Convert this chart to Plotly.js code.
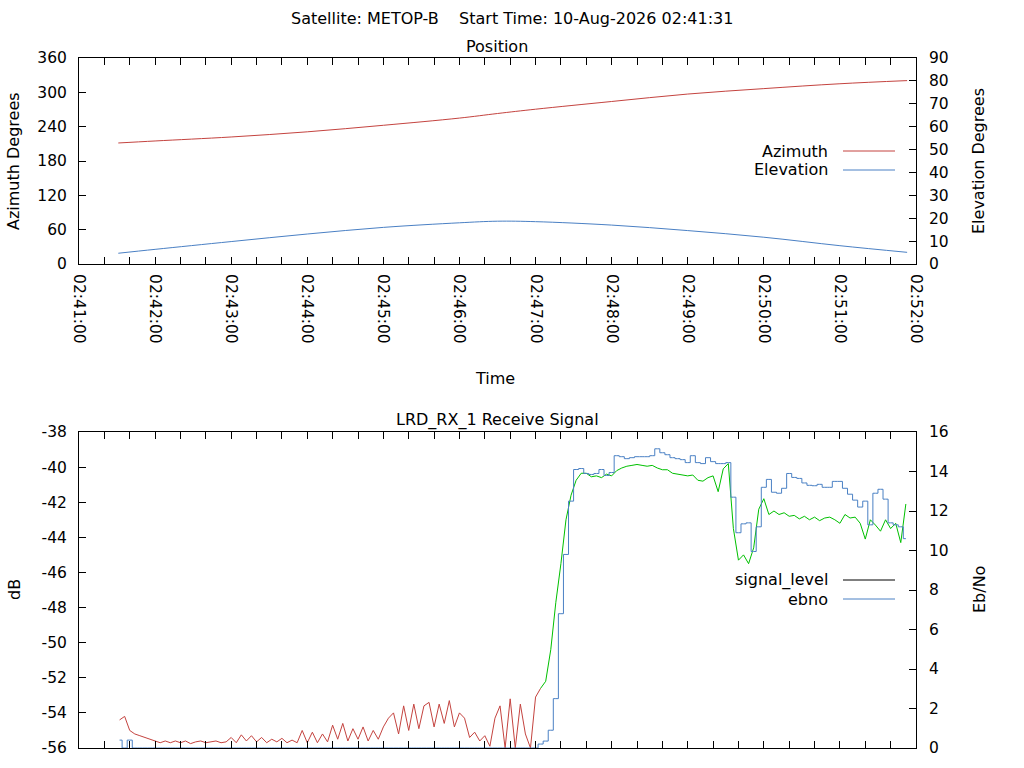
<!DOCTYPE html>
<html>
<head>
<meta charset="utf-8">
<script src="https://cdn.plot.ly/plotly-3.0.1.min.js"></script>
<style>
  html, body { margin: 0; padding: 0; background: #ffffff; }
  #chart { width: 1024px; height: 768px; }
</style>
</head>
<body>
<div id="chart"></div>
<script>
// ---------------- Data ----------------
const mainTitle = 'Satellite: METOP-B    Start Time: 10-Aug-2026 02:41:31';
const positionTitle = 'Position';
const signalTitle = 'LRD_RX_1 Receive Signal';

// Position pass (top panel)
const posTimes = [
  '2026-08-10 02:41:31', '2026-08-10 02:42:00', '2026-08-10 02:43:00', '2026-08-10 02:44:00',
  '2026-08-10 02:45:00', '2026-08-10 02:46:00', '2026-08-10 02:46:30', '2026-08-10 02:47:00',
  '2026-08-10 02:48:00', '2026-08-10 02:49:00', '2026-08-10 02:50:00', '2026-08-10 02:51:00',
  '2026-08-10 02:51:53'
];
const azimuth = [211.5, 215, 222, 231, 242.4, 255, 263, 270.5, 284, 297, 306.5, 315, 320.5];
const elevation = [4.7, 6.4, 9.8, 13.1, 16.0, 18.0, 18.7, 18.5, 17.0, 14.6, 11.7, 8.0, 5.1];

// Receive signal (bottom panel), one sample every 4 s from 02:41:32
const signalStart = '2026-08-10 02:41:32';
const signalStepSec = 4;
const signalLevel = [
  -54.4, -54.2, -55.0, -55.2, -55.3, -55.4, -55.5, -55.6,
  -55.7, -55.6, -55.7, -55.6, -55.7, -55.6, -55.75, -55.65, -55.6, -55.7, -55.65, -55.6, -55.7, -55.65,
  -55.4, -55.7, -55.25, -55.6, -55.3, -55.65, -55.4, -55.7, -55.5, -55.65, -55.45, -55.7, -55.55, -55.7,
  -55.0, -55.7, -55.1, -55.7, -55.2, -55.65, -54.7, -55.5, -54.6,
  -55.6, -54.9, -55.5, -54.8, -55.6, -55.0, -55.5, -54.8,
  -54.3, -54.0, -55.2, -53.6, -55.0, -53.5, -54.9, -53.6, -53.4, -54.8, -53.5, -54.6, -53.3, -54.8,
  -54.0, -54.3, -55.4, -55.1, -55.6, -55.3, -55.9, -54.3, -53.6, -56.0, -53.2, -56.0, -53.5, -55.2,
  -56.0, -53.1, -52.6,
  -52.2, -50.4, -47.7, -45.5, -43.0, -41.6, -40.75, -40.35, -40.35, -40.55, -40.5, -40.6, -40.4, -40.5,
  -40.2, -40.05, -39.95, -39.9, -39.85, -39.9, -39.95, -39.9, -40.05, -40.15, -40.15, -40.35, -40.4,
  -40.45, -40.5, -40.45, -40.75, -40.8, -40.6, -40.5, -41.4, -40.1, -39.8, -43.5, -45.3, -45.0, -45.5,
  -44.6, -42.4, -41.8, -42.7, -42.5, -42.7, -42.6, -42.8, -42.75, -42.95, -42.8, -43.0, -42.85, -43.05,
  -42.9, -42.85, -43.0, -43.2, -42.7, -42.9, -42.85, -43.2, -44.1, -43.0, -43.3, -43.65, -43.0, -43.5,
  -43.2, -44.3, -42.1
];
const ebno = [
  0.4, 0, 0.4,
  0, 0, 0, 0, 0, 0, 0, 0, 0, 0, 0, 0, 0, 0, 0, 0, 0, 0, 0, 0,
  0, 0, 0, 0, 0, 0, 0, 0, 0, 0, 0, 0, 0, 0, 0, 0, 0, 0, 0, 0,
  0, 0, 0, 0, 0, 0, 0, 0, 0, 0, 0, 0, 0, 0, 0, 0, 0, 0, 0, 0,
  0, 0, 0, 0, 0, 0, 0, 0, 0, 0, 0, 0, 0, 0, 0, 0, 0, 0, 0, 0,
  0.2, 0.35, 0.9, 2.5, 6.8, 9.8, 12.5, 14.1, 14.15, 13.9, 13.85, 13.9, 14.1, 13.8, 13.95,
  14.8, 14.75, 14.65, 14.7, 14.75, 14.75, 14.75, 14.8, 15.15, 14.95, 14.85, 14.7, 14.65, 14.6,
  14.45, 14.8, 14.45, 14.4, 14.7, 14.5, 14.4, 14.4, 14.45, 12.7, 10.9, 11.35, 11.4, 9.95, 11.2,
  13.2, 13.6, 12.95, 12.9, 13.15, 13.9, 13.7, 13.65, 13.42, 13.3, 13.28, 13.35, 13.2, 13.2, 13.5,
  13.5, 13.15, 12.85, 12.55, 12.2, 12.5, 11.3, 12.9, 13.1, 12.6, 11.4, 11.3, 11.2, 10.6
];
// sample index where the receiver is locked (signal drawn green from here)
const lockedFrom = 83;

const timeRange = ['2026-08-10 02:41:00', '2026-08-10 02:52:00'];
const dbTicks = [-56, -54, -52, -50, -48, -46, -44, -42, -40, -38];
const dbTickLabels = ['-56', '-54', '-52', '-50', '-48', '-46', '-44', '-42', '-40', '-38'];
const legendTop = ['Azimuth', 'Elevation'];
const legendBottom = ['signal_level', 'ebno'];

// ---------------- Styling ----------------
const RED = '#c4433f';
const BLUE = '#4a80c4';
const GREEN = '#00c000';
const FONT = 'DejaVu Sans, sans-serif';

const W = 1024, H = 768;
const px = v => v / W;
const py = v => 1 - v / H;

const xDomain = [px(79), px(916)];
const topDomain = [py(264), py(58)];
const botDomain = [py(748), py(432)];

// ---------------- Traces ----------------
const t0 = new Date(signalStart.replace(' ', 'T') + 'Z').getTime();
const sigTimes = signalLevel.map((_, i) => t0 + i * signalStepSec * 1000);

const traces = [
  { x: posTimes, y: azimuth, xaxis: 'x', yaxis: 'y', type: 'scatter', mode: 'lines',
    name: 'Azimuth', line: { color: RED, width: 1, shape: 'spline' } },
  { x: posTimes, y: elevation, xaxis: 'x', yaxis: 'y2', type: 'scatter', mode: 'lines',
    name: 'Elevation', line: { color: BLUE, width: 1, shape: 'spline' } },
  { x: sigTimes, y: ebno, xaxis: 'x2', yaxis: 'y4', type: 'scatter', mode: 'lines',
    name: 'ebno', line: { color: BLUE, width: 1, shape: 'hvh' } },
  { x: sigTimes.slice(0, lockedFrom + 1), y: signalLevel.slice(0, lockedFrom + 1),
    xaxis: 'x2', yaxis: 'y3', type: 'scatter', mode: 'lines',
    name: 'signal_level', line: { color: RED, width: 1 } },
  { x: sigTimes.slice(lockedFrom), y: signalLevel.slice(lockedFrom),
    xaxis: 'x2', yaxis: 'y3', type: 'scatter', mode: 'lines',
    name: 'signal_level (locked)', line: { color: GREEN, width: 1 } }
];

// ---------------- Axes ----------------
const tickFont = { family: FONT, size: 15.5, color: '#000' };
const baseX = {
  type: 'date', range: timeRange, domain: xDomain,
  tick0: timeRange[0], dtick: 60000, tickformat: '%H:%M:%S',
  ticks: 'inside', ticklen: 7, tickwidth: 1, tickcolor: '#000',
  minor: { dtick: 20000, ticks: 'inside', ticklen: 4, tickcolor: '#000', showgrid: false },
  showline: true, linecolor: '#000', linewidth: 1, mirror: 'allticks',
  showgrid: false, zeroline: false, tickfont: tickFont, automargin: false, fixedrange: true
};
const baseY = {
  ticks: 'inside', ticklen: 7, tickwidth: 1, tickcolor: '#000',
  showline: true, linecolor: '#000', linewidth: 1, mirror: true,
  showgrid: false, zeroline: false, tickfont: tickFont, automargin: false, fixedrange: true,
  ticklabelstandoff: 8
};
const baseY2 = {
  side: 'right', ticks: 'inside', ticklen: 7, tickwidth: 1, tickcolor: '#000',
  showline: false, showgrid: false, zeroline: false, tickfont: tickFont,
  automargin: false, fixedrange: true, ticklabelstandoff: 12
};

const ann = (text, x, y, opts) => Object.assign({
  text, xref: 'paper', yref: 'paper', x: px(x), y: py(y), showarrow: false,
  xanchor: 'center', yanchor: 'middle', font: { family: FONT, size: 16, color: '#000' }
}, opts || {});

const legendLine = (x0, x1, y, color) => ({
  type: 'line', xref: 'paper', yref: 'paper',
  x0: px(x0), x1: px(x1), y0: py(y), y1: py(y), line: { color, width: 1 }
});

const layout = {
  width: W, height: H,
  margin: { l: 0, r: 0, t: 0, b: 0 },
  paper_bgcolor: '#fff', plot_bgcolor: '#fff',
  showlegend: false,
  font: { family: FONT, size: 16, color: '#000' },
  xaxis: Object.assign({}, baseX, { anchor: 'y', tickangle: 90, ticklabelstandoff: 6 }),
  yaxis: Object.assign({}, baseY, { domain: topDomain, anchor: 'x', range: [0, 360], dtick: 60 }),
  yaxis2: Object.assign({}, baseY2, { overlaying: 'y', anchor: 'x', range: [0, 90], dtick: 10 }),
  xaxis2: Object.assign({}, baseX, { anchor: 'y3', showticklabels: false }),
  yaxis3: Object.assign({}, baseY, { domain: botDomain, anchor: 'x2', range: [-56, -38],
    tickmode: 'array', tickvals: dbTicks, ticktext: dbTickLabels }),
  yaxis4: Object.assign({}, baseY2, { overlaying: 'y3', anchor: 'x2', range: [0, 16], dtick: 2 }),
  annotations: [
    ann(mainTitle, 512, 18),
    ann(positionTitle, 497, 46),
    ann(signalTitle, 497, 420),
    ann('Time', 495, 379),
    ann('Azimuth Degrees', 14, 161, { textangle: -90 }),
    ann('Elevation Degrees', 979, 161, { textangle: -90 }),
    ann('dB', 14, 590, { textangle: -90 }),
    ann('Eb/No', 979, 590, { textangle: -90 }),
    ann(legendTop[0], 830, 151, { xanchor: 'right' }),
    ann(legendTop[1], 830, 170, { xanchor: 'right' }),
    ann(legendBottom[0], 830, 580, { xanchor: 'right' }),
    ann(legendBottom[1], 830, 599, { xanchor: 'right' })
  ],
  shapes: [
    legendLine(843, 895, 151, RED),
    legendLine(843, 895, 170, BLUE),
    legendLine(843, 895, 580, '#000'),
    legendLine(843, 895, 599, BLUE)
  ]
};

Plotly.newPlot('chart', traces, layout, { staticPlot: true, displayModeBar: false });
</script>
</body>
</html>
